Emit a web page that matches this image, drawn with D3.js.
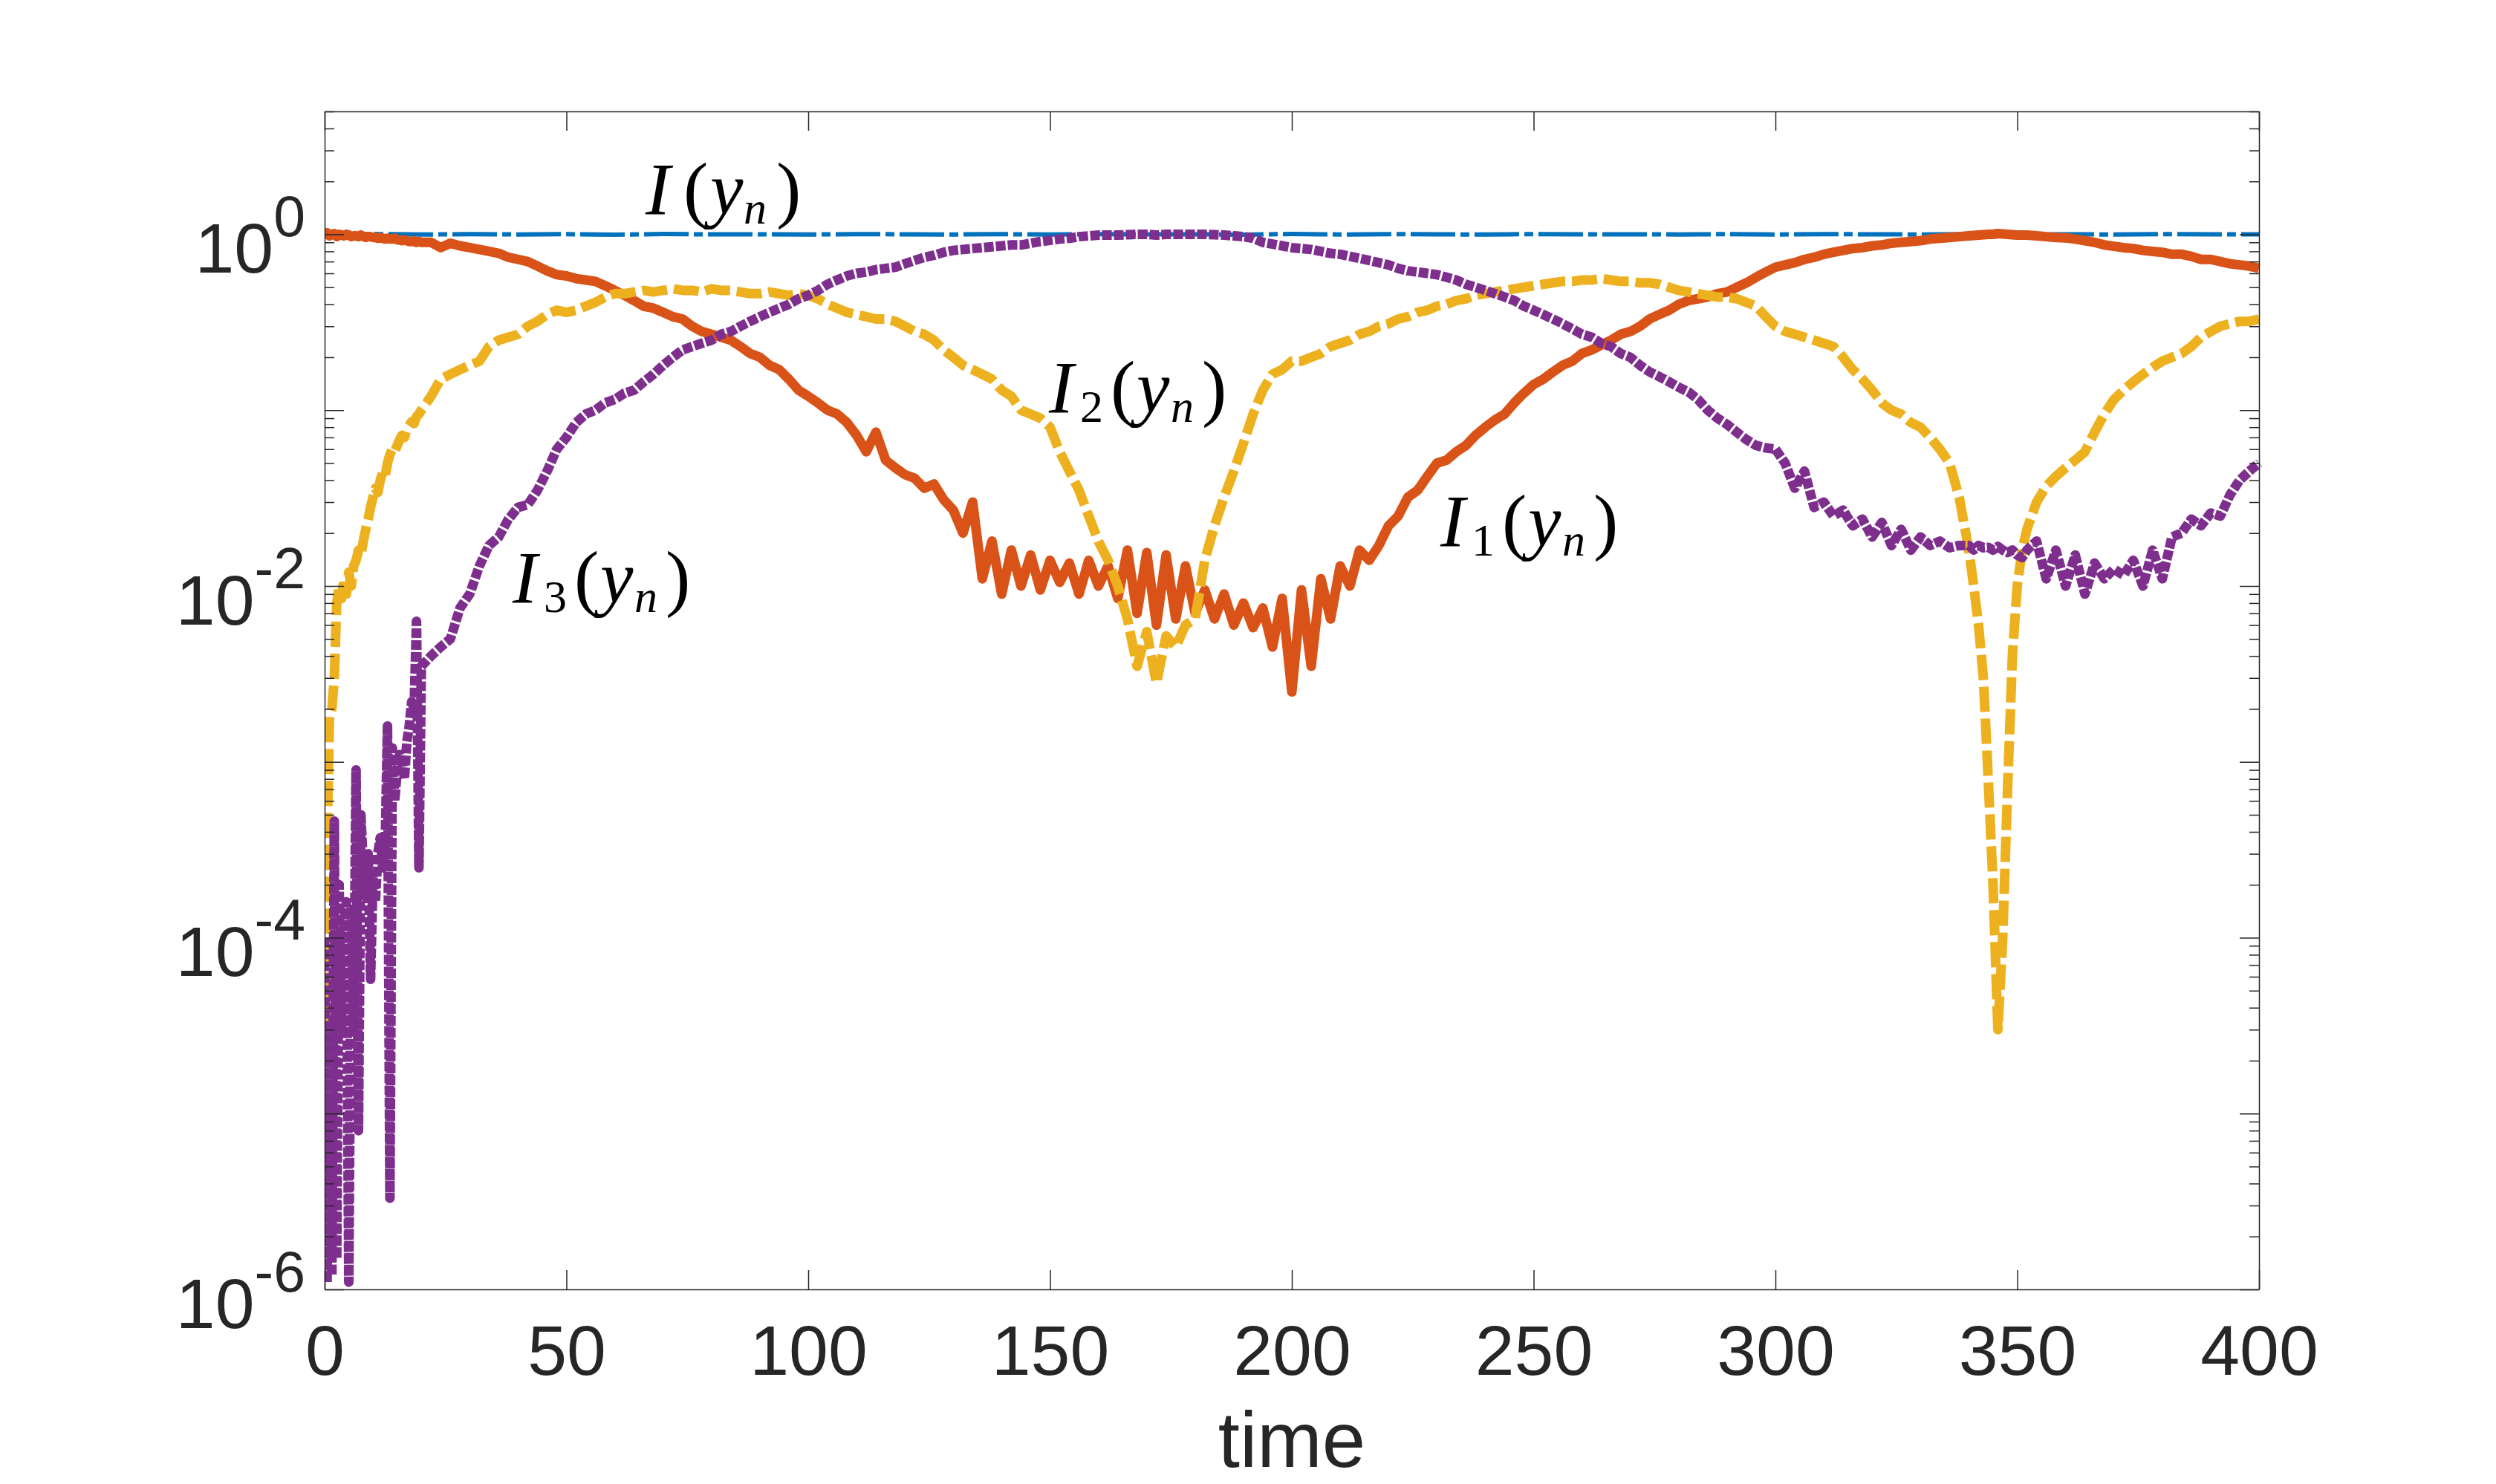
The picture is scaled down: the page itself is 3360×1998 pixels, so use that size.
<!DOCTYPE html>
<html><head><meta charset="utf-8">
<script src="https://cdn.jsdelivr.net/npm/d3@7"></script>
<style>body{margin:0;background:#fff}</style>
</head><body>
<svg id="chart" width="3360" height="1998"></svg>
<script>
// ---------------- DATA ----------------
const time = [
 0,0.5,1,1.5,2,2.5,3,3.5,4,4.5,5,5.5,6,6.5,7,7.5,8,8.5,9,9.5,10,10.5,11,11.5,12,12.5,13,13.5,14,14.5,15,15.5,16,16.5,17,17.5,18,18.5,19,19.5,20,
 22,24,26,28,30,32,34,36,38,40,42,44,46,48,50,52,54,56,58,60,62,64,66,68,70,72,74,76,78,80,
 82,84,86,88,90,92,94,96,98,100,102,104,106,108,110,112,114,116,118,120,122,124,126,128,130,132,134,136,138,140,
 142,144,146,148,150,152,154,156,158,160,162,164,166,168,170,172,174,176,178,180,182,184,186,188,190,192,194,196,198,200,
 202,204,206,208,210,212,214,216,218,220,222,224,226,228,230,232,234,236,238,240,242,244,246,248,250,252,254,256,258,260,
 262,264,266,268,270,272,274,276,278,280,282,284,286,288,290,292,294,296,298,300,302,304,306,308,310,312,314,316,318,320,
 322,324,326,328,330,332,334,336,338,340,
 341,342,343,344,345,346,347,348,349,350,351,
 352,354,356,358,360,362,364,366,368,370,372,374,376,378,380,382,384,386,388,390,392,394,396,398,400
];

// I(y_n): total, own coarse time grid
const timeI = [0,10,20,30,40,50,60,70,80,90,100,110,120,130,140,150,160,170,180,190,200,210,220,230,240,250,260,270,280,290,300,310,320,330,340,350,360,370,380,390,400];
const I_total = [1.0,1.004,0.997,1.003,0.998,1.002,0.996,1.004,0.999,1.001,0.997,1.003,1.0,0.998,1.002,0.997,1.003,0.999,1.001,0.996,1.004,0.998,1.002,1.0,0.997,1.003,0.999,1.001,0.998,1.002,0.997,1.003,1.0,0.998,1.002,0.999,1.001,0.997,1.003,1.0,1.0];

const I1 = [
 1.0,1.02,0.98,1.0,1.01,0.97,1.0,0.99,0.98,1.0,0.99,0.97,0.98,0.98,0.97,0.99,0.97,0.96,0.97,0.97,0.96,0.96,0.95,0.96,0.95,0.94,0.95,0.94,0.94,0.95,0.93,0.93,0.92,0.93,0.92,0.91,0.91,0.92,0.90,0.91,0.90,
 0.90,0.84,0.89,0.86,0.84,0.82,0.80,0.78,0.74,0.72,
 0.70,0.66,0.62,0.59,0.58,0.56,0.55,0.54,0.51,0.48,
 0.45,0.42,0.39,0.38,0.36,0.34,0.33,0.30,0.28,0.27,
 0.26,0.25,0.23,0.21,0.20,0.18,0.17,0.15,0.13,0.12,
 0.11,0.10,0.095,0.085,0.072,0.058,0.075,0.052,0.047,0.043,
 0.041,0.036,0.038,0.031,0.027,0.020,0.030,0.011,0.018,0.009,
 0.016,0.010,0.015,0.0095,0.014,0.0105,0.0135,0.009,0.014,0.010,
 0.013,0.0085,0.016,0.007,0.0155,0.006,0.015,0.0065,0.013,0.0070,
 0.0095,0.0065,0.0090,0.0060,0.0080,0.0058,0.0075,0.0045,0.0085,0.0025,
 0.0095,0.0035,0.011,0.0065,0.013,0.010,0.016,0.014,0.017,0.022,
 0.025,0.032,0.035,0.042,0.050,0.052,0.058,0.063,0.072,0.080,
 0.088,0.095,0.11,0.125,0.14,0.15,0.165,0.18,0.19,0.21,
 0.22,0.235,0.25,0.27,0.28,0.30,0.33,0.35,0.37,0.40,
 0.42,0.43,0.44,0.46,0.47,0.50,0.53,0.57,0.61,0.65,
 0.67,0.69,0.72,0.74,0.77,0.79,0.81,0.83,0.84,0.86,
 0.87,0.89,0.90,0.91,0.92,0.94,0.95,0.96,0.97,0.98,
 0.985,0.99,0.995,1.0,1.0,1.01,1.005,1.0,0.995,0.99,0.99,
 0.99,0.98,0.97,0.96,0.955,0.94,0.92,0.90,0.87,0.855,0.84,0.83,0.81,0.80,0.79,0.77,0.77,0.75,0.72,0.72,0.70,0.68,0.67,0.66,0.64
];

const I2 = [
 1.3e-5,3.5e-4,1.8e-3,2e-3,3e-3,8e-3,0.010,0.0085,0.011,0.009,0.012,0.010,0.013,0.014,0.016,0.015,0.018,0.021,0.024,0.028,0.032,0.036,0.034,0.040,0.044,0.042,0.050,0.056,0.060,0.058,0.063,0.068,0.072,0.070,0.078,0.082,0.086,0.084,0.092,0.095,0.10,
 0.12,0.15,0.16,0.17,0.18,0.19,0.23,0.25,0.26,0.27,
 0.30,0.32,0.35,0.37,0.36,0.37,0.39,0.41,0.44,0.46,
 0.46,0.47,0.48,0.47,0.48,0.49,0.48,0.48,0.47,0.49,
 0.48,0.48,0.47,0.46,0.46,0.47,0.46,0.45,0.46,0.45,
 0.43,0.40,0.38,0.36,0.35,0.34,0.33,0.33,0.32,0.30,
 0.28,0.27,0.25,0.22,0.20,0.18,0.17,0.16,0.15,0.13,
 0.12,0.10,0.095,0.09,0.08,0.058,0.045,0.035,0.025,0.018,
 0.014,0.010,0.0065,0.0035,0.0055,0.0028,0.0052,0.0045,0.0060,0.0065,
 0.014,0.022,0.032,0.045,0.065,0.095,0.13,0.16,0.17,0.19,
 0.19,0.20,0.21,0.23,0.24,0.25,0.27,0.28,0.30,0.31,
 0.33,0.34,0.36,0.37,0.39,0.40,0.42,0.43,0.45,0.46,
 0.47,0.48,0.49,0.50,0.51,0.52,0.53,0.54,0.54,0.55,
 0.55,0.56,0.55,0.54,0.54,0.53,0.53,0.52,0.50,0.48,
 0.47,0.46,0.45,0.44,0.44,0.43,0.41,0.39,0.34,0.30,
 0.28,0.27,0.26,0.25,0.24,0.23,0.20,0.17,0.15,0.13,
 0.11,0.10,0.095,0.085,0.08,0.07,0.06,0.05,0.032,0.016,
 0.010,0.006,0.003,0.0008,0.0002,0.00003,0.0001,0.0007,0.004,0.010,0.016,
 0.021,0.030,0.037,0.042,0.047,0.052,0.058,0.075,0.095,0.115,0.13,0.145,0.16,0.175,0.19,0.20,0.21,0.23,0.26,0.28,0.30,0.31,0.32,0.32,0.33
];

const I3 = [
 1.0e-4,1.1e-6,3e-5,1.2e-6,4.6e-4,1.5e-6,2e-4,3e-5,1.2e-4,1.6e-4,1.1e-6,1.5e-4,3e-5,9e-4,8e-6,5e-4,2.5e-4,1.7e-4,3e-4,5.8e-5,2.2e-4,1.6e-4,3e-4,3.7e-4,2.5e-4,3e-4,1.6e-3,3.3e-6,1.2e-3,6e-4,9e-4,1.1e-3,1.0e-3,8e-4,1.3e-3,1.6e-3,2.2e-3,2e-3,6.3e-3,2.5e-4,3.5e-3,
 0.0040,0.0045,0.0050,0.0075,0.0090,0.013,0.017,0.019,0.024,0.028,
 0.029,0.035,0.045,0.060,0.070,0.085,0.095,0.10,0.11,0.115,
 0.125,0.13,0.145,0.16,0.18,0.20,0.22,0.23,0.24,0.25,
 0.27,0.28,0.30,0.32,0.34,0.36,0.38,0.40,0.43,0.45,
 0.48,0.52,0.55,0.58,0.60,0.61,0.63,0.64,0.65,0.68,
 0.71,0.74,0.76,0.79,0.81,0.82,0.83,0.84,0.85,0.86,
 0.87,0.87,0.89,0.91,0.925,0.94,0.95,0.97,0.98,0.99,
 0.99,0.99,0.995,1.0,1.0,0.99,1.0,1.0,1.0,1.0,
 1.0,0.995,0.99,0.98,0.97,0.95,0.90,0.88,0.86,0.84,
 0.83,0.82,0.80,0.78,0.77,0.75,0.73,0.71,0.69,0.67,
 0.64,0.62,0.61,0.60,0.59,0.57,0.55,0.52,0.50,0.48,
 0.46,0.44,0.42,0.39,0.37,0.35,0.33,0.31,0.29,0.27,
 0.26,0.24,0.23,0.21,0.20,0.18,0.165,0.155,0.145,0.135,
 0.127,0.115,0.10,0.09,0.083,0.075,0.068,0.063,0.061,0.060,
 0.050,0.036,0.045,0.028,0.030,0.025,0.027,0.022,0.024,0.019,
 0.023,0.017,0.021,0.016,0.019,0.017,0.018,0.0165,0.017,0.017,
 0.016,0.017,0.0165,0.0166,0.016,0.0168,0.016,0.0155,0.016,0.015,0.0145,
 0.016,0.018,0.011,0.016,0.010,0.015,0.009,0.0135,0.011,0.0125,0.0115,0.014,0.010,0.016,0.011,0.019,0.020,0.024,0.022,0.026,0.025,0.033,0.040,0.045,0.050
];

const xTicks = [0,50,100,150,200,250,300,350,400];
const yMajorTicks = [1e-6,1e-5,1e-4,1e-3,1e-2,1e-1,1];
const yLabelTicks = [1e-6,1e-4,1e-2,1];
const yLabelExp = ["-6","-4","-2","0"];

// ---------------- LAYOUT ----------------
const L = 437, R = 3041, T = 150, B = 1736;
const axisColor = "#262626";
const svg = d3.select("#chart");
const x = d3.scaleLinear().domain([0,400]).range([L,R]);
const y = d3.scaleLog().domain([1e-6,5]).range([B,T]);

svg.append("rect").attr("width",3360).attr("height",1998).attr("fill","#fff");

svg.append("defs").append("clipPath").attr("id","clip")
  .append("rect").attr("x",L).attr("y",T-6).attr("width",R-L+6).attr("height",B-T+6);

const line = d3.line().x(d=>x(d[0])).y(d=>y(d[1]));
const plot = svg.append("g").attr("clip-path","url(#clip)");

const styles = [
  {data: timeI.map((t,i)=>[t,I_total[i]]), color:"#0072BD", w:6, dash:"60,7,12,7"},
  {data: time.map((t,i)=>[t,I1[i]]), color:"#D95319", w:13, dash:null},
  {data: time.map((t,i)=>[t,I2[i]]), color:"#EDB120", w:13, dash:"34,9"},
  {data: time.map((t,i)=>[t,I3[i]]), color:"#7E2F8E", w:13, dash:"13,3"}
];
styles.forEach(s=>{
  const p = plot.append("path").datum(s.data).attr("d",line)
    .attr("fill","none").attr("stroke",s.color).attr("stroke-width",s.w)
    .attr("stroke-linejoin","round");
  if (s.dash) p.attr("stroke-dasharray",s.dash);
});

// minor tick values
const yMinor = [];
for (let k=-6;k<=0;k++) for (let m=2;m<=9;m++){ const v=m*Math.pow(10,k); if (v<=5) yMinor.push(v); }

const ax = svg.append("g").attr("class","axes");
function styleAxis(g){
  g.selectAll("path.domain").attr("stroke",axisColor).attr("stroke-width",1.5);
  g.selectAll(".tick line").attr("stroke",axisColor).attr("stroke-width",1.5);
}
const fontSans = "'Liberation Sans', Arial, Helvetica, sans-serif";
// bottom
const gB = ax.append("g").attr("transform",`translate(0,${B})`)
  .call(d3.axisBottom(x).tickValues(xTicks).tickSize(-26).tickSizeOuter(0).tickPadding(47.5).tickFormat(d3.format("d")));
styleAxis(gB);
gB.selectAll("text").attr("font-family",fontSans).attr("font-size",95).attr("fill",axisColor);
// top
const gT = ax.append("g").attr("transform",`translate(0,${T})`)
  .call(d3.axisTop(x).tickValues(xTicks).tickSize(-26).tickSizeOuter(0).tickFormat(""));
styleAxis(gT);
// left major & minor
const gL = ax.append("g").attr("transform",`translate(${L},0)`)
  .call(d3.axisLeft(y).tickValues(yMajorTicks).tickSize(-26).tickSizeOuter(0).tickFormat(""));
styleAxis(gL);
const gLm = ax.append("g").attr("transform",`translate(${L},0)`)
  .call(d3.axisLeft(y).tickValues(yMinor).tickSize(-13).tickSizeOuter(0).tickFormat(""));
styleAxis(gLm); gLm.select("path.domain").remove();
// right major & minor
const gR = ax.append("g").attr("transform",`translate(${R},0)`)
  .call(d3.axisRight(y).tickValues(yMajorTicks).tickSize(-26).tickSizeOuter(0).tickFormat(""));
styleAxis(gR);
const gRm = ax.append("g").attr("transform",`translate(${R},0)`)
  .call(d3.axisRight(y).tickValues(yMinor).tickSize(-13).tickSizeOuter(0).tickFormat(""));
styleAxis(gRm); gRm.select("path.domain").remove();

// y labels with superscripts
yLabelTicks.forEach((v,i)=>{
  const t = svg.append("text").attr("x",L-26).attr("y",y(v)+52)
    .attr("text-anchor","end").attr("fill",axisColor)
    .attr("font-family",fontSans).attr("font-size",95);
  t.append("tspan").text("10");
  t.append("tspan").attr("dy",-49).attr("font-size",77).text(yLabelExp[i]);
});

// x label
svg.append("text").attr("x",(L+R)/2).attr("y",1975).attr("text-anchor","middle")
  .attr("fill",axisColor).attr("font-family",fontSans)
  .attr("font-size",105).text("time");

// curve annotations (math-style)
const serif = "'Liberation Serif','Times New Roman',serif";
function mathLabel(x0, base, sub){
  const g = svg.append("text").attr("font-family",serif).attr("fill","#000").attr("font-size",100);
  if (sub){
    g.append("tspan").attr("x",x0).attr("y",base).attr("font-style","italic").text("I");
    g.append("tspan").attr("x",x0+42).attr("y",base+13).attr("font-size",62).text(sub);
    g.append("tspan").attr("x",x0+83).attr("y",base).text("(");
    g.append("tspan").attr("x",x0+118).attr("y",base).attr("font-style","italic").text("y");
    g.append("tspan").attr("x",x0+164).attr("y",base+13).attr("font-size",62).attr("font-style","italic").text("n");
    g.append("tspan").attr("x",x0+206).attr("y",base).text(")");
  } else {
    g.append("tspan").attr("x",x0).attr("y",base).attr("font-style","italic").text("I");
    g.append("tspan").attr("x",x0+51).attr("y",base).text("(");
    g.append("tspan").attr("x",x0+87).attr("y",base).attr("font-style","italic").text("y");
    g.append("tspan").attr("x",x0+132).attr("y",base+13).attr("font-size",62).attr("font-style","italic").text("n");
    g.append("tspan").attr("x",x0+176).attr("y",base).text(")");
  }
}
mathLabel(869, 288, null);
mathLabel(1412, 555, "2");
mathLabel(1939, 735, "1");
mathLabel(690, 811, "3");
</script>
</body></html>
